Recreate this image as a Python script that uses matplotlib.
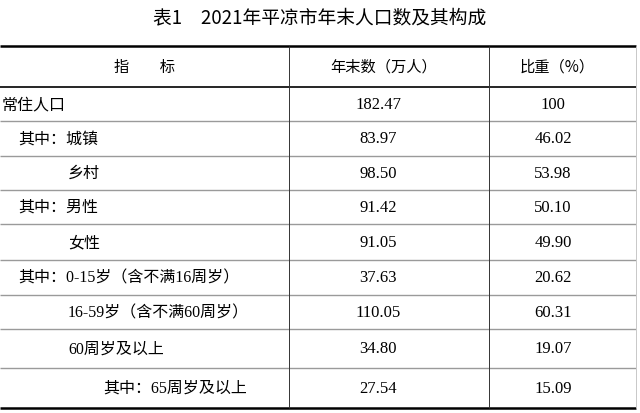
import matplotlib
matplotlib.use("Agg")
import matplotlib.pyplot as plt

# table content
title = "表1　2021年平凉市年末人口数及其构成"
headers = ["指　　标", "年末数（万人）", "比重（%）"]
row_labels = ["常住人口", "其中：城镇", "乡村", "其中：男性", "女性",
              "其中：0-15岁（含不满16周岁）", "16-59岁（含不满60周岁）",
              "60周岁及以上", "其中：65周岁及以上"]
level = [0, 1, 2, 1, 2, 1, 2, 2, 3]
year_end = ["182.47", "83.97", "98.50", "91.42", "91.05",
            "37.63", "110.05", "34.80", "27.54"]
share = ["100", "46.02", "53.98", "50.10", "49.90",
         "20.62", "60.31", "19.07", "15.09"]

# layout in pixels
row_edges = [47, 88, 122, 157, 191, 225, 261, 296, 330, 369, 409]
col_edges = [0, 289, 489, 636]
indent_px = {0: 2, 1: 18, 2: 68, 3: 103}
header_x = [145, 384, 557]
value_x = [378, 553]
label_fam = ["Liberation Serif", "Noto Sans CJK SC"]
sans_fam = ["Noto Sans CJK SC", "DejaVu Sans"]

fig = plt.figure(figsize=(6.4, 4.14), dpi=100)
ax = fig.add_axes([0, 0, 1, 1])
ax.set_xlim(0, 640)
ax.set_ylim(414, 0)
ax.axis("off")

ax.text(320, 18, title, ha="center", va="center", fontsize=13.5, family=sans_fam)

# header row
hy = (row_edges[0] + row_edges[1]) / 2
for i, h in enumerate(headers):
    ax.text(header_x[i], hy, h, ha="center", va="center", fontsize=11,
            family=sans_fam, weight="medium")

# body rows
for r in range(len(row_labels)):
    cy = (row_edges[r + 1] + row_edges[r + 2]) / 2
    ax.text(indent_px[level[r]], cy, row_labels[r], ha="left", va="center",
            fontsize=11.5, family=label_fam)
    ax.text(value_x[0], cy, year_end[r], ha="center", va="center",
            fontsize=12, family=label_fam)
    ax.text(value_x[1], cy, share[r], ha="center", va="center",
            fontsize=12, family=label_fam)

# rules
ax.hlines(row_edges[0], 0, col_edges[-1], color="black", lw=1.8)
ax.hlines(row_edges[1], 0, col_edges[-1], color="black", lw=1.2)
ax.hlines(row_edges[2:-1], 0, col_edges[-1], color="#9a9a9a", lw=1.0)
ax.hlines(row_edges[-1], 0, col_edges[-1], color="black", lw=1.8)
ax.vlines(col_edges[1:3], row_edges[0], row_edges[-1], color="#333333", lw=0.7)
ax.vlines(col_edges[-1], row_edges[0], row_edges[-1], color="#c8c8c8", lw=0.7)

fig.savefig("out.png", dpi=100, facecolor="white")
